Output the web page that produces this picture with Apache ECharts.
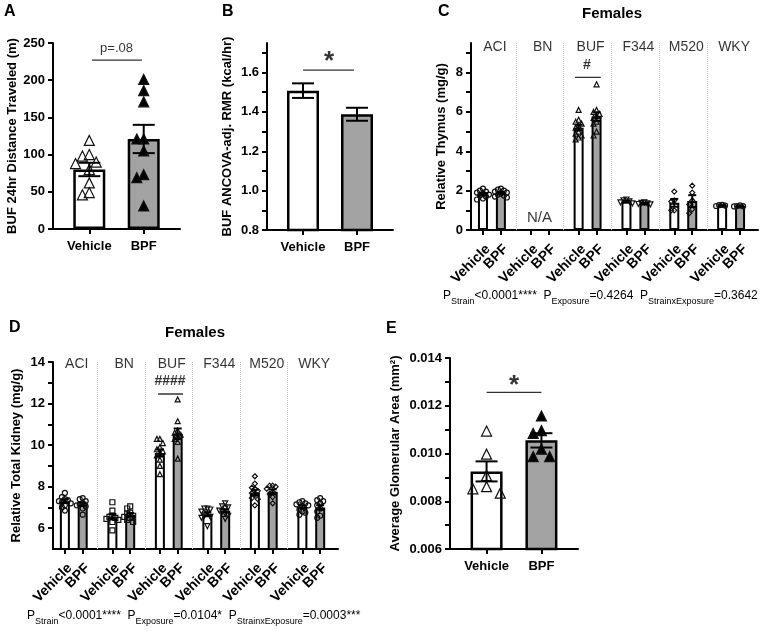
<!DOCTYPE html>
<html>
<head>
<meta charset="utf-8">
<script src="https://cdn.jsdelivr.net/npm/echarts@6/dist/echarts.min.js"></script>
<style>
html, body { margin: 0; padding: 0; background: #fff; }
#main { width: 762px; height: 631px; }
</style>
</head>
<body>
<div id="main"></div>
<script>
// ---- data ----
var groups = ['Vehicle', 'BPF'];
var strains = ['ACI', 'BN', 'BUF', 'F344', 'M520', 'WKY'];

// A: BUF 24hr distance traveled (m)
var distMean = [80, 121];
var distSem = [9, 19];
var distVeh = [119, 100, 98, 90, 88, 80, 62, 46, 49];
var distBpf = [201, 186, 171, 121, 121, 105, 73, 69, 31];

// B: BUF ANCOVA-adj. RMR (kcal/hr)
var rmrMean = [1.508, 1.388];
var rmrSem = [0.037, 0.033];

// C: relative thymus (mg/g), BN = N/A
var thyVehMean = [1.82, null, 5.2, 1.45, 1.38, 1.25];
var thyBpfMean = [1.88, null, 5.76, 1.35, 1.47, 1.22];
var thyVehSem = [0.06, null, 0.15, 0.05, 0.2, 0.02];
var thyBpfSem = [0.05, null, 0.22, 0.03, 0.3, 0.02];
var thyVehPts = [
  [2.1, 2.0, 1.95, 1.9, 1.85, 1.8, 1.75, 1.7, 1.6, 1.55],
  [],
  [6.1, 5.6, 5.5, 5.4, 5.3, 5.2, 5.0, 4.9, 4.8, 4.7, 4.6],
  [1.55, 1.5, 1.45, 1.4, 1.35],
  [1.95, 1.5, 1.45, 1.0, 1.0],
  [1.28, 1.26, 1.24, 1.22]
];
var thyBpfPts = [
  [2.1, 2.05, 2.0, 1.95, 1.9, 1.85, 1.8, 1.75, 1.7, 1.65],
  [],
  [7.4, 6.1, 6.0, 5.9, 5.8, 5.7, 5.5, 5.4, 5.0, 4.8],
  [1.4, 1.38, 1.35, 1.32, 1.3],
  [2.25, 1.9, 1.5, 1.3, 1.05, 0.85],
  [1.25, 1.22, 1.21, 1.2]
];

// D: relative total kidney (mg/g)
var kidVehMean = [7.3, 6.55, 9.62, 6.67, 7.72, 7.02];
var kidBpfMean = [7.15, 6.65, 10.55, 6.84, 7.75, 7.0];
var kidVehSem = [0.09, 0.13, 0.17, 0.09, 0.13, 0.07];
var kidBpfSem = [0.08, 0.08, 0.25, 0.07, 0.12, 0.11];
var kidVehPts = [
  [7.7, 7.5, 7.4, 7.35, 7.3, 7.25, 7.2, 7.1, 7.0, 6.85],
  [7.25, 6.85, 6.6, 6.55, 6.5, 6.45, 6.4, 6.3, 5.9],
  [10.3, 10.3, 10.1, 9.9, 9.8, 9.7, 9.6, 9.5, 9.3, 9.0, 8.6],
  [6.95, 6.95, 6.9, 6.8, 6.7, 6.6, 6.55, 6.5, 6.1],
  [8.5, 8.15, 7.95, 7.9, 7.8, 7.7, 7.6, 7.45, 7.4, 7.1],
  [7.3, 7.25, 7.2, 7.15, 7.1, 7.05, 6.9, 6.8, 6.75, 6.65]
];
var kidBpfPts = [
  [7.45, 7.4, 7.3, 7.2, 7.15, 7.1, 7.05, 6.95, 6.65],
  [7.05, 6.95, 6.75, 6.7, 6.6, 6.55, 6.5, 6.4, 6.3],
  [12.2, 11.15, 10.7, 10.6, 10.5, 10.4, 10.3, 10.15, 9.35],
  [7.2, 7.05, 7.0, 6.95, 6.85, 6.8, 6.7, 6.6, 6.45],
  [8.05, 8.05, 8.0, 7.9, 7.75, 7.65, 7.5, 7.2],
  [7.45, 7.35, 7.3, 7.2, 7.1, 6.95, 6.8, 6.6, 6.5]
];

// E: average glomerular area (mm2)
var gloMean = [0.00925, 0.01055];
var gloSem = [0.00042, 0.0003];
var gloVeh = [0.01094, 0.00997, 0.00907, 0.00861, 0.00834, 0.00852];
var gloBpf = [0.01157, 0.01096, 0.01084, 0.01018, 0.00987, 0.00987];

// tick labels
var ticksA = [0, 50, 100, 150, 200, 250];
var ticksB = [0.8, 1.0, 1.2, 1.4, 1.6];
var ticksC = [0, 2, 4, 6, 8];
var ticksD = [6, 8, 10, 12, 14];
var ticksE = [0.006, 0.008, 0.010, 0.012, 0.014];

// ---- style / layout ----
var FONT = '"Liberation Sans", Arial, sans-serif';
var GRAY = '#a3a3a3';
var chart = echarts.init(document.getElementById('main'));

var grids = [
  {left: 53, top: 43, width: 127, height: 186},   // A
  {left: 267, top: 43, width: 126, height: 187},  // B
  {left: 471, top: 43, width: 287, height: 187},  // C
  {left: 53, top: 362, width: 285, height: 187},  // D
  {left: 450, top: 358, width: 128, height: 191}  // E
];

var symbols = ['circle', 'rect', 'triangle', 'triangle', 'diamond', 'circle'];
var symRot = [0, 0, 0, 180, 0, 0];

function labelMap(n, pitch) {
  var m = {};
  for (var g = 0; g < n; g++) {
    m[2 + pitch * g] = groups[0];
    m[5 + pitch * g] = groups[1];
  }
  return m;
}

function catAxis(p, n, labels, rotate) {
  var d = [];
  for (var k = 0; k < n; k++) d.push(labels[k] || '');
  var lab = {interval: 0, rotate: rotate || 0, margin: rotate ? 12 : 11,
    color: '#000', fontWeight: 'bold', fontSize: rotate ? 14 : 13, fontFamily: FONT};
  if (rotate) lab.verticalAlign = 'top';
  return {
    type: 'category', gridIndex: p, data: d, boundaryGap: false,
    axisLine: {lineStyle: {color: '#000', width: 2}},
    axisTick: {length: 5, lineStyle: {color: '#000', width: 2},
      interval: function (i) { return !!labels[i]; }},
    axisLabel: lab,
    splitLine: {show: false}
  };
}

function valAxis(p, max) {
  return {type: 'value', gridIndex: p, min: 0, max: max, show: false};
}

function yAx(p, min, max, tickVals, labelVals, dec, name, gap) {
  return {
    type: 'value', gridIndex: p, min: min, max: max,
    name: name, nameLocation: 'middle', nameGap: gap, nameRotate: 90,
    nameTextStyle: {color: '#000', fontWeight: 'bold', fontSize: 13, fontFamily: FONT},
    axisLine: {show: true, lineStyle: {color: '#000', width: 2}},
    axisTick: {show: true, length: 5, lineStyle: {color: '#000', width: 2}, customValues: tickVals},
    axisLabel: {customValues: labelVals, color: '#000', fontWeight: 'bold', fontSize: 13,
      fontFamily: FONT, margin: 8,
      formatter: function (v) { return v.toFixed(dec); }},
    splitLine: {show: false}
  };
}

function steps(a, b, s) {
  var out = [];
  for (var v = a; v <= b + s / 2; v += s) out.push(Math.round(v / s) * s);
  return out;
}

// simple beeswarm so overlapping dots spread sideways
function swarm(vals, center, step, thr) {
  var placed = [];
  var slots = [0, -1, 1, -2, 2];
  return vals.slice().sort(function (a, b) { return b - a; }).map(function (v) {
    var best = 0, bestD = -1;
    for (var i = 0; i < slots.length; i++) {
      var s = slots[i], d = Infinity;
      placed.forEach(function (q) { if (q.s === s) d = Math.min(d, Math.abs(q.v - v)); });
      if (d >= thr) { best = s; bestD = d; break; }
      if (d > bestD) { bestD = d; best = s; }
    }
    placed.push({s: best, v: v});
    return [center + best * step, v];
  });
}

function bars(p, items, bw, border, extra) {
  var s = {
    type: 'bar', xAxisIndex: 2 * p + 1, yAxisIndex: p, barWidth: bw, z: 2,
    data: items.map(function (it) {
      return {value: [it[0], it[1]], itemStyle: {color: it[2], borderColor: '#000', borderWidth: border}};
    })
  };
  for (var k in (extra || {})) s[k] = extra[k];
  return s;
}

function errs(p, items, cap) {
  return {
    type: 'custom', xAxisIndex: 2 * p + 1, yAxisIndex: p, z: 6, data: items,
    renderItem: function (params, api) {
      var x = api.value(0), m = api.value(1), e = api.value(2);
      var hi = api.coord([x, m + e]), lo = api.coord([x, m - e]);
      var st = {stroke: '#000', lineWidth: 2};
      return {type: 'group', children: [
        {type: 'line', shape: {x1: hi[0], y1: hi[1], x2: lo[0], y2: lo[1]}, style: st},
        {type: 'line', shape: {x1: hi[0] - cap / 2, y1: hi[1], x2: hi[0] + cap / 2, y2: hi[1]}, style: st},
        {type: 'line', shape: {x1: lo[0] - cap / 2, y1: lo[1], x2: lo[0] + cap / 2, y2: lo[1]}, style: st}
      ]};
    }
  };
}

function dots(p, vals, center, step, thr, sym, size, fill, rot) {
  return {
    type: 'scatter', xAxisIndex: 2 * p + 1, yAxisIndex: p, z: 4,
    symbol: sym, symbolSize: size, symbolRotate: rot || 0,
    itemStyle: {color: fill, borderColor: '#111', borderWidth: 1.2, opacity: 1},
    data: swarm(vals, center, step, thr)
  };
}

function sigLine(p, x1, x2, y) {
  return {type: 'line', xAxisIndex: 2 * p + 1, yAxisIndex: p, z: 3, symbol: 'none', silent: true,
    lineStyle: {color: '#333', width: 1.3}, data: [[x1, y], [x2, y]]};
}

function note(p, x, y, text, size, weight) {
  return {type: 'scatter', xAxisIndex: 2 * p + 1, yAxisIndex: p, z: 7, symbolSize: 1, silent: true,
    itemStyle: {color: 'transparent'}, data: [[x, y]],
    label: {show: true, position: 'inside', formatter: text, color: '#000',
      fontFamily: FONT, fontSize: size, fontWeight: weight || 'normal'}};
}

// ---- axes ----
var twoLab = labelMap(1, 8);
var sixLab = labelMap(6, 8);
var xAxes = [
  catAxis(0, 8, twoLab), valAxis(0, 7),
  catAxis(1, 8, twoLab), valAxis(1, 7),
  catAxis(2, 49, sixLab, 45), valAxis(2, 48),
  catAxis(3, 49, sixLab, 45), valAxis(3, 48),
  catAxis(4, 8, twoLab), valAxis(4, 7)
];
var yAxes = [
  yAx(0, 0, 250, ticksA, ticksA, 0, 'BUF 24hr Distance Traveled (m)', 34),
  yAx(1, 0.8, 1.75, steps(0.8, 1.7, 0.1), ticksB, 1, 'BUF ANCOVA-adj. RMR (kcal/hr)', 33),
  yAx(2, 0, 9.5, steps(0, 9, 1), ticksC, 0, 'Relative Thymus (mg/g)', 23),
  yAx(3, 5, 14, steps(6, 14, 1), ticksD, 0, 'Relative Total Kidney (mg/g)', 30),
  yAx(4, 0.006, 0.014, steps(0.006, 0.014, 0.001), ticksE, 3, 'Average Glomerular Area (mm\u00b2)', 48)
];

// ---- series ----
var series = [];

// A
series.push(bars(0, [[2, distMean[0], '#fff'], [5, distMean[1], GRAY]], 32, 2.5));
series.push(dots(0, distVeh, 2, 0.38, 13, 'triangle', 10, 'transparent'));
series.push(dots(0, distBpf, 5, 0.38, 13, 'triangle', 10, '#000'));
series.push(errs(0, [[2, distMean[0], distSem[0]], [5, distMean[1], distSem[1]]], 22));
series.push(sigLine(0, 2.15, 4.9, 227));
series.push(note(0, 3.5, 243, 'p=.08', 13));

// B
series.push(bars(1, [[2, rmrMean[0], '#fff'], [5, rmrMean[1], GRAY]], 32, 2.5));
series.push(errs(1, [[2, rmrMean[0], rmrSem[0]], [5, rmrMean[1], rmrSem[1]]], 22));
series.push(sigLine(1, 2.0, 4.83, 1.612));
series.push(note(1, 3.45, 1.652, '*', 26, 'bold'));

// C and D
function strainPanel(p, vMean, bMean, vSem, bSem, vPts, bPts, thr) {
  var items = [], eItems = [], seps = [];
  strains.forEach(function (s, g) {
    var xv = 2 + 8 * g, xb = 5 + 8 * g;
    if (vMean[g] != null) {
      items.push([xv, vMean[g], '#fff']);
      items.push([xb, bMean[g], GRAY]);
      eItems.push([xv, vMean[g], vSem[g]]);
      eItems.push([xb, bMean[g], bSem[g]]);
    }
    if (g > 0) seps.push({xAxis: 8 * g - 0.5});
  });
  series.push(bars(p, items, 10, 2, {
    markLine: {silent: true, symbol: 'none', label: {show: false},
      lineStyle: {color: '#c4c4c4', type: 'dotted', width: 1}, data: seps}
  }));
  strains.forEach(function (s, g) {
    if (vPts[g].length) series.push(dots(p, vPts[g], 2 + 8 * g, 0.5, thr, symbols[g], 5, 'transparent', symRot[g]));
    if (bPts[g].length) series.push(dots(p, bPts[g], 5 + 8 * g, 0.5, thr, symbols[g], 5, 'transparent', symRot[g]));
  });
  series.push(errs(p, eItems, 8));
}

strainPanel(2, thyVehMean, thyBpfMean, thyVehSem, thyBpfSem, thyVehPts, thyBpfPts, 0.25);
strains.forEach(function (s, g) { series.push(note(2, 4 + 8 * g, 9.27, s, 14)); });
series.push(note(2, 11.45, 0.6, 'N/A', 15));
series.push(sigLine(2, 17.4, 21.7, 7.75));
series.push(note(2, 19.4, 8.4, '#', 14, 'bold'));

strainPanel(3, kidVehMean, kidBpfMean, kidVehSem, kidBpfSem, kidVehPts, kidBpfPts, 0.24);
strains.forEach(function (s, g) { series.push(note(3, 4 + 8 * g, 13.9, s, 14)); });
series.push(sigLine(3, 17.7, 21.9, 12.46));
series.push(note(3, 19.7, 13.1, '####', 14, 'bold'));

// E
series.push(bars(4, [[2, gloMean[0], '#fff'], [5, gloMean[1], GRAY]], 32, 2.5));
series.push(dots(4, gloVeh, 2, 0.75, 0.00037, 'triangle', 10, 'transparent'));
series.push(dots(4, gloBpf, 5, 0.45, 0.00037, 'triangle', 10, '#000'));
series.push(errs(4, [[2, gloMean[0], gloSem[0]], [5, gloMean[1], gloSem[1]]], 22));
series.push(sigLine(4, 2.0, 5.0, 0.01256));
series.push(note(4, 3.5, 0.01282, '*', 26, 'bold'));

// ---- free text ----
function txt(x, y, text, size, weight, align) {
  return {type: 'text', x: x, y: y, silent: true,
    style: {text: text, fill: '#000', font: (weight || 'normal') + ' ' + size + 'px ' + FONT,
      align: align || 'left', textAlign: align || 'left', verticalAlign: 'top', textVerticalAlign: 'top'}};
}

var rich = {
  p: {fontSize: 12, fontFamily: FONT, color: '#000', lineHeight: 14, verticalAlign: 'top'},
  s: {fontSize: 9, fontFamily: FONT, color: '#000', lineHeight: 10, verticalAlign: 'top', padding: [7, 0, 0, 0]}
};
function pText(x, y, pS, pE, pSE) {
  return {type: 'text', x: x, y: y, silent: true,
    style: {text: '{p|P}{s|Strain}{p|' + pS + '  P}{s|Exposure}{p|' + pE + '  P}{s|StrainxExposure}{p|' + pSE + '}',
      rich: rich, fill: '#000', font: '12px ' + FONT}};
}

var graphic = [
  txt(4, 4, 'A', 16, 'bold'),
  txt(222, 4, 'B', 16, 'bold'),
  txt(438, 4, 'C', 16, 'bold'),
  txt(9, 320, 'D', 16, 'bold'),
  txt(386, 321, 'E', 16, 'bold'),
  txt(612, 6, 'Females', 15, 'bold', 'center'),
  txt(195, 325, 'Females', 15, 'bold', 'center'),
  pText(443, 290, '<0.0001****', '=0.4264', '=0.3642'),
  pText(27, 610, '<0.0001****', '=0.0104*', '=0.0003***')
];

chart.setOption({
  animation: false,
  backgroundColor: '#fff',
  grid: grids,
  xAxis: xAxes,
  yAxis: yAxes,
  series: series,
  graphic: graphic
});
</script>
</body>
</html>
